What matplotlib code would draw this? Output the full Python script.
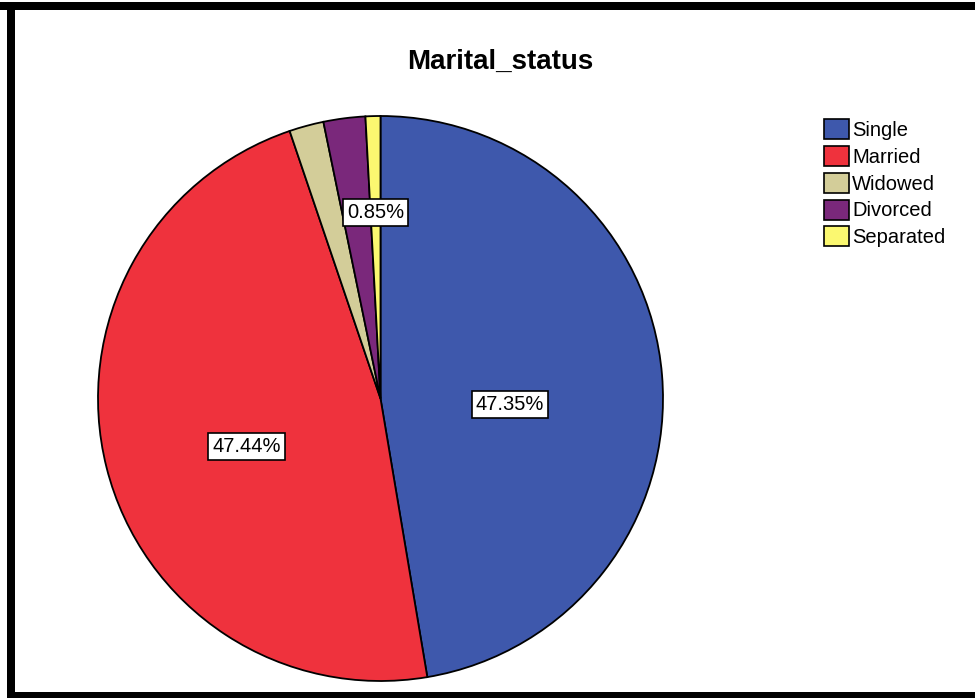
import numpy as np
import matplotlib
matplotlib.use("Agg")
import matplotlib.pyplot as plt
from matplotlib.patches import Rectangle

plt.rcParams['font.family'] = ['Liberation Sans', 'DejaVu Sans']

# data
categories = ['Single', 'Married', 'Widowed', 'Divorced', 'Separated']
percents = [47.35, 47.44, 1.97, 2.39, 0.85]
colors = ['#3E58AC', '#EF323D', '#D3CD99', '#7A287B', '#FBF870']
show_label = [True, True, False, False, True]
label_dist = [0.46, 0.49, 0.0, 0.0, 0.66]
label_drop = [0.06, 0.05, 0.0, 0.0, 0.0]

W, H = 975, 698
fig = plt.figure(figsize=(W / 100, H / 100), dpi=100)

# pie axes placed so the pie sits where it does in the reference
cx, cy, r = 380.5, 398.5, 282.5
lim = 1.05
side = 2 * lim * r
ax = fig.add_axes([(cx - side / 2) / W, (H - cy - side / 2) / H, side / W, side / H])

wedges, _ = ax.pie(percents, colors=colors, startangle=90, counterclock=False,
                   wedgeprops={'edgecolor': 'black', 'linewidth': 1.3})
ax.set_xlim(-lim, lim)
ax.set_ylim(-lim, lim)
ax.set_aspect('equal')
ax.axis('off')

# percentage boxes
for w, p, show, d, dy in zip(wedges, percents, show_label, label_dist, label_drop):
    if not show:
        continue
    mid = np.deg2rad((w.theta1 + w.theta2) / 2)
    ax.text(d * np.cos(mid), d * np.sin(mid) - dy, f'{p:.2f}%', ha='center', va='center',
            fontsize=14.5,
            bbox=dict(boxstyle='square,pad=0.2', facecolor='white', edgecolor='black', linewidth=1.2))

fig.text(500 / W, 1 - 62 / H, 'Marital_status', ha='center', va='center',
         fontsize=20, fontweight='bold')

leg = fig.legend(wedges, categories, loc='upper left', bbox_to_anchor=(824 / W, 1 - 119 / H),
                 frameon=False, fontsize=14.5, handlelength=1.25, handleheight=1.15,
                 handletextpad=0.15, labelspacing=0.3, borderpad=0, borderaxespad=0)
for h in leg.legend_handles:
    h.set_edgecolor('black')
    h.set_linewidth(1.2)

# black frame around the chart
frame = [(0, 2, W, 8), (7, 2, 8, H - 2), (7, 692, W - 7, 6)]
for x0, y0, w0, h0 in frame:
    fig.patches.append(Rectangle((x0 / W, 1 - (y0 + h0) / H), w0 / W, h0 / H,
                                 transform=fig.transFigure, facecolor='black',
                                 edgecolor='none', zorder=10))

fig.savefig('out.png', dpi=100)
